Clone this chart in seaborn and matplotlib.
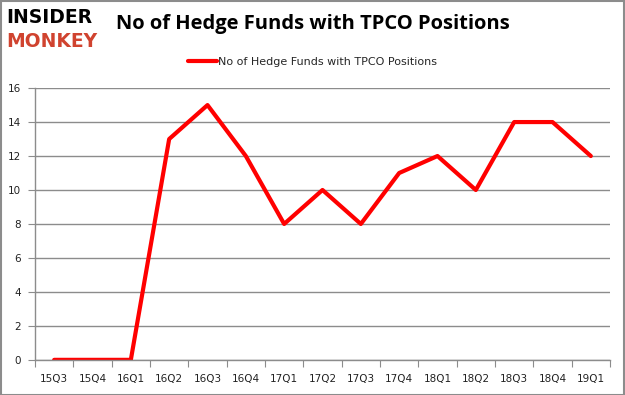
import numpy as np
import pandas as pd
import matplotlib
matplotlib.use('Agg')
import matplotlib.pyplot as plt
import seaborn as sns

# quarters and hedge fund counts
quarters = ['15Q3', '15Q4', '16Q1', '16Q2', '16Q3', '16Q4', '17Q1', '17Q2',
            '17Q3', '17Q4', '18Q1', '18Q2', '18Q3', '18Q4', '19Q1']
funds = [0, 0, 0, 13, 15, 12, 8, 10, 8, 11, 12, 10, 14, 14, 12]
y_ticks = [0, 2, 4, 6, 8, 10, 12, 14, 16]

series_name = 'No of Hedge Funds with TPCO Positions'
df = pd.DataFrame({'pos': np.arange(len(quarters)), 'funds': funds,
                   'series': series_name})

sns.set_style('white')
plt.rcParams['font.family'] = ['DejaVu Sans']

fig = plt.figure(figsize=(6.25, 3.95), dpi=100)
ax = fig.add_axes([0.056, 0.089, 0.92, 0.688])

sns.lineplot(data=df, x='pos', y='funds', hue='series', palette=['#ff0000'],
             linewidth=3, ax=ax, legend=False)

ax.set_xlim(-0.5, len(quarters) - 0.5)
ax.set_ylim(0, 16)
ax.set_yticks(y_ticks)
ax.set_yticklabels([str(v) for v in y_ticks], fontsize=7.5, color='#222222')
ax.yaxis.grid(True, color='#8c8c8c', linewidth=1)
ax.set_axisbelow(True)

# ticks between categories, labels at centres
ax.set_xticks(np.arange(-0.5, len(quarters), 1.0))
ax.set_xticklabels([])
ax.set_xticks(np.arange(len(quarters)), minor=True)
ax.set_xticklabels(quarters, minor=True, fontsize=7.5, color='#222222')
ax.tick_params(axis='x', which='major', length=5, color='#8c8c8c', direction='out', bottom=True)
ax.tick_params(axis='x', which='minor', length=0, pad=10)
ax.tick_params(axis='y', length=5, color='#8c8c8c', direction='out', left=True, pad=5)
ax.set_xlabel('')
ax.set_ylabel('')

for side in ['top', 'right']:
    ax.spines[side].set_visible(False)
for side in ['left', 'bottom']:
    ax.spines[side].set_color('#8c8c8c')
    ax.spines[side].set_linewidth(1)

# legend line + label
handle = plt.Line2D([], [], color='#ff0000', linewidth=3)
fig.legend([handle], [series_name], loc='center', bbox_to_anchor=(0.5, 0.843),
           frameon=False, fontsize=8, handlelength=2.6, handletextpad=0.1)

# title and logo
fig.text(0.5, 0.94, series_name, ha='center', va='center', fontsize=14.5,
         fontweight='bold', color='black', family=['Open Sans', 'DejaVu Sans'])
fig.text(0.01, 0.955, 'INSIDER', ha='left', va='center', fontsize=13.5,
         fontweight='heavy', color='black')
fig.text(0.01, 0.895, 'MONKEY', ha='left', va='center', fontsize=13.5,
         fontweight='heavy', color='#d0432f')

# grey frame around the picture
fig.patches.append(plt.Rectangle((0.001, 0.001), 0.997, 0.997, transform=fig.transFigure,
                                 fill=False, edgecolor='#8c8c8c', linewidth=1.5))

fig.savefig('out.png', dpi=100)
